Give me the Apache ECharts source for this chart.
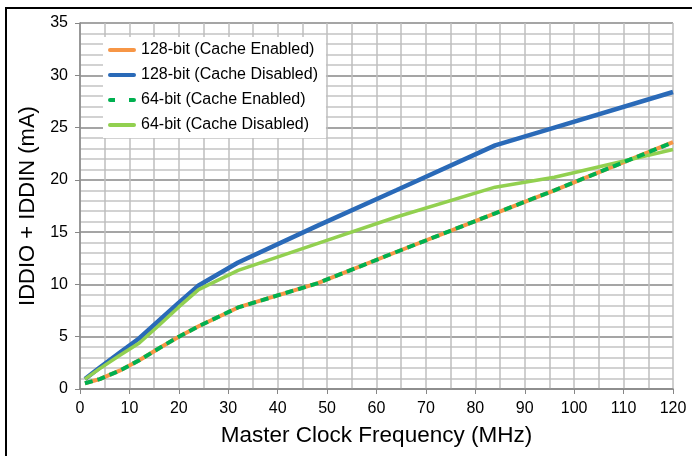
<!DOCTYPE html>
<html>
<head>
<meta charset="utf-8">
<script src="https://cdn.jsdelivr.net/npm/echarts@6/dist/echarts.min.js"></script>
<style>
  html, body { margin: 0; padding: 0; background: #fff; }
  #chart { width: 692px; height: 456px; }
</style>
</head>
<body>
<div id="chart"></div>
<script>
  // values
  var freqs = [1, 4, 8, 12, 16, 20, 24, 32, 48, 64, 84, 96, 120]
  var bit128Enabled = [0.55, 0.95, 1.75, 2.75, 3.9, 5.0, 6.0, 7.8, 10.1, 13.1, 16.8, 19.0, 23.6]
  var bit128Disabled = [0.95, 2.05, 3.45, 4.85, 6.55, 8.25, 9.9, 12.1, 15.6, 19.0, 23.3, 25.0, 28.4]
  var bit64Enabled = [0.55, 0.95, 1.75, 2.75, 3.9, 5.0, 6.0, 7.8, 10.1, 13.1, 16.8, 19.0, 23.6]
  var bit64Disabled = [0.95, 1.95, 3.2, 4.4, 6.1, 7.85, 9.5, 11.35, 13.9, 16.45, 19.3, 20.25, 22.9]
  var names = ['128-bit (Cache Enabled)', '128-bit (Cache Disabled)', '64-bit (Cache Enabled)', '64-bit (Cache Disabled)']

  function pairs(ys) {
    return freqs.map(function (f, i) { return [f, ys[i]] })
  }

  // legend swatches: solid bar, or two short dashes
  var solidIcon = 'path://M2,0H26A2,2 0 0 1 26,4H2A2,2 0 0 1 2,0Z'
  var dashIcon = 'path://M2,0H7V4H2A2,2 0 0 1 2,0Z M21,0H26A2,2 0 0 1 26,4H21Z'

  var font = 'Liberation Sans, Arial, sans-serif'
  var chart = echarts.init(document.getElementById('chart'))
  var option = {
    animation: false,
    textStyle: { fontFamily: font },
    graphic: [{
      type: 'rect',
      shape: { x: 6, y: 8, width: 720, height: 470 },
      style: { fill: 'none', stroke: '#000', lineWidth: 2 },
      silent: true
    }],
    grid: { left: 80, right: 19, top: 23, bottom: 67 },
    legend: {
      orient: 'vertical',
      left: 103,
      top: 37,
      padding: [5, 8, 5, 5],
      backgroundColor: '#fff',
      itemWidth: 28,
      itemHeight: 4,
      itemGap: 9,
      itemStyle: { borderWidth: 0 },
      textStyle: { fontSize: 16, color: '#000', fontFamily: font },
      data: [
        { name: names[0], icon: solidIcon },
        { name: names[1], icon: solidIcon },
        { name: names[2], icon: dashIcon, lineStyle: { type: [7, 13] } },
        { name: names[3], icon: solidIcon }
      ]
    },
    xAxis: {
      type: 'value',
      min: 0,
      max: 120,
      interval: 10,
      name: 'Master Clock Frequency (MHz)',
      nameLocation: 'middle',
      nameGap: 35,
      nameTextStyle: { fontSize: 22.5, color: '#000', fontFamily: font },
      axisLine: { lineStyle: { color: '#868686', width: 1.5 } },
      axisTick: { show: true, length: 5, lineStyle: { color: '#868686' } },
      axisLabel: { fontSize: 16, color: '#000', margin: 12 },
      splitLine: { show: true, lineStyle: { color: '#bfbfbf', width: 1.5 } },
      minorTick: { show: false, splitNumber: 2 },
      minorSplitLine: { show: true, lineStyle: { color: '#bfbfbf', width: 1.5 } }
    },
    yAxis: {
      type: 'value',
      min: 0,
      max: 35,
      interval: 5,
      name: 'IDDIO + IDDIN (mA)',
      nameLocation: 'middle',
      nameGap: 35,
      nameTextStyle: { fontSize: 22, color: '#000', fontFamily: font },
      axisLine: { show: true, lineStyle: { color: '#868686', width: 1.5 } },
      axisTick: { show: true, length: 5, lineStyle: { color: '#868686' } },
      axisLabel: { fontSize: 16, color: '#000', margin: 12 },
      splitLine: { show: true, lineStyle: { color: '#878787', width: 1.5 } },
      minorTick: { show: false, splitNumber: 5 },
      minorSplitLine: { show: true, lineStyle: { color: '#c4c4c4', width: 1.5 } }
    },
    series: [
      {
        name: names[0],
        type: 'line',
        symbol: 'none',
        z: 2,
        lineStyle: { color: '#f79646', width: 4 },
        itemStyle: { color: '#f79646' },
        data: pairs(bit128Enabled)
      },
      {
        name: names[1],
        type: 'line',
        symbol: 'none',
        z: 3,
        lineStyle: { color: '#2a6ab8', width: 4.5 },
        itemStyle: { color: '#2a6ab8' },
        data: pairs(bit128Disabled)
      },
      {
        name: names[2],
        type: 'line',
        symbol: 'none',
        z: 5,
        lineStyle: { color: '#00b050', width: 4, type: [8, 5] },
        itemStyle: { color: '#00b050' },
        data: pairs(bit64Enabled)
      },
      {
        name: names[3],
        type: 'line',
        symbol: 'none',
        z: 4,
        lineStyle: { color: '#92d050', width: 3.5 },
        itemStyle: { color: '#92d050' },
        data: pairs(bit64Disabled)
      }
    ]
  }
  chart.setOption(option)
</script>
</body>
</html>
